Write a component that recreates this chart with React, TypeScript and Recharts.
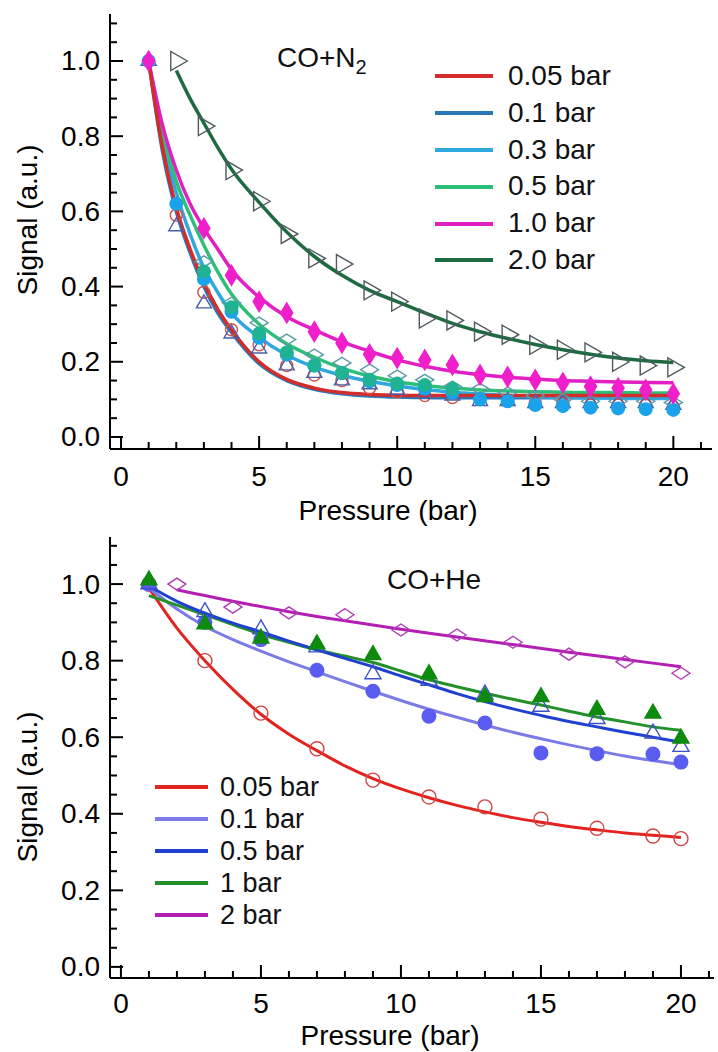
import { ComposedChart, Line, Scatter, XAxis, YAxis, Legend } from 'recharts';

const FONT = '"Liberation Sans", Arial, sans-serif';
const FS = 28;

// ---------- shared ticks ----------
const xTicks = [0, 1, 2, 3, 4, 5, 6, 7, 8, 9, 10, 11, 12, 13, 14, 15, 16, 17, 18, 19, 20, 21];
const yTicks = [0, 0.05, 0.1, 0.15, 0.2, 0.25, 0.3, 0.35, 0.4, 0.45, 0.5, 0.55, 0.6, 0.65, 0.7, 0.75, 0.8, 0.85, 0.9, 0.95, 1.0, 1.05, 1.1];

// ---------- CO + N2 (top panel) ----------
const n2Labels = ['0.05 bar', '0.1 bar', '0.3 bar', '0.5 bar', '1.0 bar', '2.0 bar'];
const n2Colors = ['#D42B2B', '#2A78B8', '#2FA8E0', '#2DBE78', '#E01FC4', '#1E6B42'];

const n2FitX = [1, 1.5, 2, 2.5, 3, 3.5, 4, 5, 6, 7, 8, 9, 10, 11, 12, 13, 14, 15, 16, 17, 18, 19, 20];
const n2Fit005 = [1.0, 0.77, 0.61, 0.5, 0.41, 0.34, 0.285, 0.2, 0.153, 0.13, 0.118, 0.113, 0.111, 0.11, 0.11, 0.11, 0.11, 0.11, 0.11, 0.11, 0.11, 0.11, 0.11];
const n2Fit01 = [1.0, 0.76, 0.6, 0.49, 0.4, 0.33, 0.278, 0.195, 0.15, 0.127, 0.115, 0.109, 0.106, 0.105, 0.104, 0.104, 0.104, 0.104, 0.104, 0.104, 0.104, 0.104, 0.104];
const n2Fit03 = [1.0, 0.79, 0.65, 0.54, 0.45, 0.385, 0.33, 0.265, 0.218, 0.186, 0.164, 0.148, 0.136, 0.126, 0.119, 0.114, 0.11, 0.107, 0.105, 0.104, 0.103, 0.102, 0.102];
const n2Fit05 = [1.0, 0.81, 0.68, 0.59, 0.51, 0.44, 0.38, 0.3, 0.248, 0.212, 0.183, 0.162, 0.147, 0.137, 0.13, 0.125, 0.122, 0.12, 0.119, 0.118, 0.118, 0.117, 0.117];
const n2Fit10 = [1.0, 0.83, 0.71, 0.62, 0.555, 0.5, 0.445, 0.372, 0.32, 0.285, 0.253, 0.228, 0.205, 0.188, 0.175, 0.166, 0.159, 0.154, 0.15, 0.148, 0.146, 0.145, 0.144];
const n2Fit20X = [2, 2.5, 3, 3.5, 4, 5, 6, 7, 8, 9, 10, 11, 12, 13, 14, 15, 16, 17, 18, 19, 20];
const n2Fit20 = [0.975, 0.9, 0.835, 0.77, 0.712, 0.624, 0.545, 0.48, 0.43, 0.39, 0.36, 0.33, 0.302, 0.28, 0.262, 0.246, 0.232, 0.22, 0.21, 0.203, 0.198];

const n2X = [1, 2, 3, 4, 5, 6, 7, 8, 9, 10, 11, 12, 13, 14, 15, 16, 17, 18, 19, 20];
const n2Pts005 = [1.0, 0.59, 0.385, 0.285, 0.245, 0.19, 0.165, 0.15, 0.13, 0.12, 0.11, 0.105, 0.1, 0.095, 0.09, 0.09, 0.085, 0.085, 0.085, 0.08];
const n2Pts01 = [1.0, 0.56, 0.355, 0.275, 0.235, 0.19, 0.17, 0.15, 0.14, 0.125, 0.115, 0.11, 0.095, 0.095, 0.09, 0.09, 0.09, 0.09, 0.09, 0.085];
const n2Pts03 = [1.0, 0.62, 0.42, 0.333, 0.264, 0.219, 0.19, 0.17, 0.148, 0.138, 0.128, 0.118, 0.1, 0.095, 0.085, 0.082, 0.078, 0.076, 0.074, 0.072];
const n2Pts05X = [3, 4, 5, 6, 7, 8, 9, 10, 11, 12];
const n2Pts05 = [0.44, 0.345, 0.275, 0.225, 0.19, 0.17, 0.152, 0.142, 0.138, 0.128];
const n2Pts05bX = [3, 4, 5, 6, 7, 8, 9, 10, 11, 12, 13, 14, 15, 16, 17, 18, 19, 20];
const n2Pts05b = [0.467, 0.357, 0.304, 0.259, 0.219, 0.197, 0.179, 0.163, 0.152, 0.134, 0.128, 0.118, 0.11, 0.1, 0.095, 0.095, 0.095, 0.092];
const n2Pts10X = [1, 3, 4, 5, 6, 7, 8, 9, 10, 11, 12, 13, 14, 15, 16, 17, 18, 19, 20];
const n2Pts10 = [1.0, 0.555, 0.43, 0.36, 0.33, 0.28, 0.25, 0.22, 0.21, 0.205, 0.192, 0.165, 0.16, 0.152, 0.144, 0.134, 0.13, 0.125, 0.115];
const n2Pts20X = [2, 3, 4, 5, 6, 7, 8, 9, 10, 11, 12, 13, 14, 15, 16, 17, 18, 19, 20];
const n2Pts20 = [1.0, 0.827, 0.71, 0.627, 0.54, 0.475, 0.46, 0.39, 0.36, 0.315, 0.31, 0.28, 0.272, 0.245, 0.232, 0.225, 0.2, 0.19, 0.185];

// ---------- CO + He (bottom panel) ----------
const heLabels = ['0.05 bar', '0.1 bar', '0.5 bar', '1 bar', '2 bar'];
const heColors = ['#E3231F', '#7B7BE8', '#1F40D0', '#23902A', '#B31FB3'];

const heFitX = [1, 2, 3, 4, 5, 6, 7, 8, 9, 10, 11, 12, 13, 14, 15, 16, 17, 18, 19, 20];
const heFit005 = [0.99, 0.885, 0.8, 0.725, 0.66, 0.608, 0.565, 0.525, 0.492, 0.465, 0.442, 0.422, 0.405, 0.39, 0.378, 0.367, 0.358, 0.35, 0.344, 0.338];
const heFit01 = [0.99, 0.935, 0.89, 0.855, 0.825, 0.797, 0.771, 0.745, 0.72, 0.696, 0.673, 0.652, 0.632, 0.613, 0.596, 0.58, 0.565, 0.551, 0.539, 0.528];
const heFit05 = [0.995, 0.955, 0.924, 0.898, 0.875, 0.851, 0.828, 0.806, 0.784, 0.76, 0.737, 0.714, 0.693, 0.674, 0.657, 0.641, 0.627, 0.613, 0.6, 0.587];
const heFit1 = [0.97, 0.945, 0.92, 0.894, 0.869, 0.848, 0.828, 0.812, 0.795, 0.773, 0.75, 0.732, 0.715, 0.699, 0.684, 0.668, 0.653, 0.64, 0.627, 0.618];
const he2X = [2, 4, 6, 8, 10, 12, 14, 16, 18, 20];
const heFit2 = [0.985, 0.955, 0.928, 0.904, 0.882, 0.862, 0.842, 0.822, 0.803, 0.784];

const heX = [1, 3, 5, 7, 9, 11, 13, 15, 17, 19, 20];
const hePts005 = [1.0, 0.8, 0.663, 0.57, 0.488, 0.444, 0.418, 0.386, 0.362, 0.342, 0.335];
const hePts01 = [1.0, 0.9, 0.855, 0.775, 0.72, 0.655, 0.637, 0.559, 0.557, 0.556, 0.535];
const hePts05 = [1.0, 0.927, 0.882, 0.835, 0.765, 0.748, 0.712, 0.68, 0.648, 0.61, 0.575];
const hePts1 = [1.01, 0.895, 0.858, 0.843, 0.815, 0.765, 0.705, 0.705, 0.672, 0.662, 0.597];
const hePts2 = [1.0, 0.94, 0.925, 0.92, 0.88, 0.867, 0.848, 0.817, 0.797, 0.767];

const pts = (xs: number[], ys: number[]) => xs.map((x, i) => ({ x, y: ys[i] }));

// ---------- markers ----------
const openCircle = (color: string, r: number) => (p: any) =>
  <circle cx={p.cx} cy={p.cy} r={r} fill="none" stroke={color} strokeWidth={1.4} />;
const dot = (color: string, r: number) => (p: any) =>
  <circle cx={p.cx} cy={p.cy} r={r} fill={color} />;
const triUp = (color: string, s: number, filled: boolean) => (p: any) => {
  const h = s * 0.87;
  const pts = `${p.cx},${p.cy - (h * 2) / 3} ${p.cx - s / 2},${p.cy + h / 3} ${p.cx + s / 2},${p.cy + h / 3}`;
  return <polygon points={pts} fill={filled ? color : 'none'} stroke={color} strokeWidth={1.4} />;
};
const triRight = (color: string, s: number) => (p: any) => {
  const h = s * 0.87;
  const pts = `${p.cx + (h * 2) / 3},${p.cy} ${p.cx - h / 3},${p.cy - s / 2} ${p.cx - h / 3},${p.cy + s / 2}`;
  return <polygon points={pts} fill="none" stroke={color} strokeWidth={1.4} />;
};
const diamond = (color: string, w: number, h: number, filled: boolean) => (p: any) => {
  const pts = `${p.cx},${p.cy - h / 2} ${p.cx + w / 2},${p.cy} ${p.cx},${p.cy + h / 2} ${p.cx - w / 2},${p.cy}`;
  return <polygon points={pts} fill={filled ? color : 'none'} stroke={color} strokeWidth={1.4} />;
};

// ---------- axes ticks (inward, mirrored on all four sides) ----------
const isMajorX = (v: number) => Math.abs(v / 5 - Math.round(v / 5)) < 1e-6;
const isMajorY = (v: number) => Math.abs(v * 5 - Math.round(v * 5)) < 1e-6;

const BottomTick = (labelDy: number) => (p: any) => {
  const v = p.payload.value;
  const major = isMajorX(v);
  return (
    <g>
      <line x1={p.x} x2={p.x} y1={p.y} y2={p.y - (major ? 13 : 7)} stroke="#000" strokeWidth={2} />
      {major && (
        <text x={p.x} y={p.y + labelDy} textAnchor="middle" dominantBaseline="central" fontSize={FS} fill="#000">
          {v}
        </text>
      )}
    </g>
  );
};
const TopTick = (p: any) => {
  const major = isMajorX(p.payload.value);
  return <line x1={p.x} x2={p.x} y1={p.y} y2={p.y + (major ? 13 : 7)} stroke="#000" strokeWidth={2} />;
};
const LeftTick = (p: any) => {
  const v = p.payload.value;
  const major = isMajorY(v);
  return (
    <g>
      <line x1={p.x} x2={p.x + (major ? 13 : 7)} y1={p.y} y2={p.y} stroke="#000" strokeWidth={2} />
      {major && (
        <text x={p.x - 10} y={p.y} textAnchor="end" dominantBaseline="central" fontSize={FS} fill="#000">
          {v.toFixed(1)}
        </text>
      )}
    </g>
  );
};
const RightTick = (p: any) => {
  const major = isMajorY(p.payload.value);
  return <line x1={p.x} x2={p.x - (major ? 13 : 7)} y1={p.y} y2={p.y} stroke="#000" strokeWidth={2} />;
};

const frame = { stroke: '#000', strokeWidth: 2 };

const legendContent = (labels: string[], colors: string[], rowH: number, lineW: number, gap: number, fs: number) => () => (
  <div style={{ fontFamily: FONT, fontSize: fs, color: '#111' }}>
    {labels.map((l, i) => (
      <div key={l} style={{ display: 'flex', alignItems: 'center', height: rowH, lineHeight: `${rowH}px`, whiteSpace: 'nowrap' }}>
        <div style={{ width: lineW, height: 4, background: colors[i], marginRight: gap }} />
        <span>{l}</span>
      </div>
    ))}
  </div>
);

const xTitle = (x: number, y: number) => () => (
  <text x={x} y={y} textAnchor="middle" fontSize={FS} fill="#000">Pressure (bar)</text>
);
const yTitle = (x: number, y: number) => () => (
  <text x={x} y={y} transform={`rotate(-90 ${x} ${y})`} textAnchor="middle" dominantBaseline="central" fontSize={FS} fill="#000">
    Signal (a.u.)
  </text>
);

export default function App() {
  const n2XDomain = [-0.4, 21.4];
  const n2YDomain = [-0.032, 1.125];
  const heXDomain = [-0.39, 21.18];
  const heYDomain = [-0.029, 1.123];

  return (
    <div style={{ position: 'absolute', left: 0, top: 0, width: 718, height: 1052, background: '#fff', fontFamily: FONT }}>
      {/* CO + N2 */}
      <div style={{ position: 'absolute', left: 0, top: 0 }}>
        <ComposedChart width={718} height={540} margin={{ top: 14, right: 6, left: 0, bottom: 21 }}>
          <XAxis dataKey="x" type="number" domain={n2XDomain} allowDataOverflow ticks={xTicks} interval={0}
            tick={BottomTick(27)} tickLine={false} tickSize={0} tickMargin={0} axisLine={frame} height={70}
            label={xTitle(388, 520)} />
          <XAxis xAxisId="top" orientation="top" dataKey="x" type="number" domain={n2XDomain} allowDataOverflow
            ticks={xTicks} interval={0} tick={TopTick} tickLine={false} tickSize={0} tickMargin={0} axisLine={frame} height={0} />
          <YAxis type="number" domain={n2YDomain} allowDataOverflow ticks={yTicks} interval={0}
            tick={LeftTick} tickLine={false} tickSize={0} tickMargin={0} axisLine={frame} width={110}
            label={yTitle(27, 220)} />
          <YAxis yAxisId="right" orientation="right" type="number" domain={n2YDomain} allowDataOverflow ticks={yTicks}
            interval={0} tick={RightTick} tickLine={false} tickSize={0} tickMargin={0} axisLine={frame} width={0} />

          <Line data={pts(n2FitX, n2Fit01)} dataKey="y" type="monotone" stroke={n2Colors[1]} strokeWidth={3.5} dot={false} isAnimationActive={false} />
          <Line data={pts(n2FitX, n2Fit03)} dataKey="y" type="monotone" stroke={n2Colors[2]} strokeWidth={3.5} dot={false} isAnimationActive={false} />
          <Line data={pts(n2FitX, n2Fit05)} dataKey="y" type="monotone" stroke={n2Colors[3]} strokeWidth={3.5} dot={false} isAnimationActive={false} />
          <Line data={pts(n2FitX, n2Fit10)} dataKey="y" type="monotone" stroke={n2Colors[4]} strokeWidth={3.5} dot={false} isAnimationActive={false} />
          <Line data={pts(n2Fit20X, n2Fit20)} dataKey="y" type="monotone" stroke={n2Colors[5]} strokeWidth={3.5} dot={false} isAnimationActive={false} />
          <Line data={pts(n2FitX, n2Fit005)} dataKey="y" type="monotone" stroke={n2Colors[0]} strokeWidth={3.5} dot={false} isAnimationActive={false} />

          <Scatter data={pts(n2X, n2Pts005)} dataKey="y" shape={openCircle('#D0504A', 6)} isAnimationActive={false} />
          <Scatter data={pts(n2X, n2Pts01)} dataKey="y" shape={triUp('#4A5FA8', 15, false)} isAnimationActive={false} />
          <Scatter data={pts(n2Pts05bX, n2Pts05b)} dataKey="y" shape={diamond('#5B9BA5', 18, 11, false)} isAnimationActive={false} />
          <Scatter data={pts(n2X, n2Pts03)} dataKey="y" shape={dot('#1AA3EA', 7)} isAnimationActive={false} />
          <Scatter data={pts(n2Pts05X, n2Pts05)} dataKey="y" shape={dot('#1FB393', 7)} isAnimationActive={false} />
          <Scatter data={pts(n2Pts10X, n2Pts10)} dataKey="y" shape={diamond('#F01ECB', 12, 20, true)} isAnimationActive={false} />
          <Scatter data={pts(n2Pts20X, n2Pts20)} dataKey="y" shape={triRight('#4F5A5F', 19)} isAnimationActive={false} />

          <Legend layout="vertical" align="center" verticalAlign="middle"
            content={legendContent(n2Labels, n2Colors, 36.8, 58, 15, FS)}
            wrapperStyle={{ top: 58, left: 435, width: 'auto', height: 'auto' }} />
        </ComposedChart>
        <div style={{ position: 'absolute', left: 277, top: 44, fontSize: FS, lineHeight: '28px', color: '#111', whiteSpace: 'nowrap' }}>
          CO+N<sub style={{ fontSize: 20 }}>2</sub>
        </div>
      </div>

      {/* CO + He */}
      <div style={{ position: 'absolute', left: 0, top: 522 }}>
        <ComposedChart width={718} height={530} margin={{ top: 15, right: 4, left: 0, bottom: 5 }}>
          <XAxis dataKey="x" type="number" domain={heXDomain} allowDataOverflow ticks={xTicks} interval={0}
            tick={BottomTick(25)} tickLine={false} tickSize={0} tickMargin={0} axisLine={frame} height={69}
            label={xTitle(390, 523)} />
          <XAxis xAxisId="top" orientation="top" dataKey="x" type="number" domain={heXDomain} allowDataOverflow
            ticks={xTicks} interval={0} tick={TopTick} tickLine={false} tickSize={0} tickMargin={0} axisLine={frame} height={0} />
          <YAxis type="number" domain={heYDomain} allowDataOverflow ticks={yTicks} interval={0}
            tick={LeftTick} tickLine={false} tickSize={0} tickMargin={0} axisLine={frame} width={110}
            label={yTitle(27, 265)} />
          <YAxis yAxisId="right" orientation="right" type="number" domain={heYDomain} allowDataOverflow ticks={yTicks}
            interval={0} tick={RightTick} tickLine={false} tickSize={0} tickMargin={0} axisLine={frame} width={0} />

          <Line data={pts(heFitX, heFit005)} dataKey="y" type="monotone" stroke={heColors[0]} strokeWidth={3} dot={false} isAnimationActive={false} />
          <Line data={pts(heFitX, heFit01)} dataKey="y" type="monotone" stroke={heColors[1]} strokeWidth={3} dot={false} isAnimationActive={false} />
          <Line data={pts(heFitX, heFit1)} dataKey="y" type="monotone" stroke={heColors[3]} strokeWidth={3} dot={false} isAnimationActive={false} />
          <Line data={pts(heFitX, heFit05)} dataKey="y" type="monotone" stroke={heColors[2]} strokeWidth={3} dot={false} isAnimationActive={false} />
          <Line data={pts(he2X, heFit2)} dataKey="y" type="monotone" stroke={heColors[4]} strokeWidth={3} dot={false} isAnimationActive={false} />

          <Scatter data={pts(heX, hePts005)} dataKey="y" shape={openCircle('#D04545', 7)} isAnimationActive={false} />
          <Scatter data={pts(heX, hePts01)} dataKey="y" shape={dot('#5A5CF0', 7.5)} isAnimationActive={false} />
          <Scatter data={pts(heX, hePts05)} dataKey="y" shape={triUp('#3A50C8', 16, false)} isAnimationActive={false} />
          <Scatter data={pts(heX, hePts1)} dataKey="y" shape={triUp('#0E8A0E', 16, true)} isAnimationActive={false} />
          <Scatter data={pts(he2X, hePts2)} dataKey="y" shape={diamond('#B23AB5', 18, 12, false)} isAnimationActive={false} />

          <Legend layout="vertical" align="center" verticalAlign="middle"
            content={legendContent(heLabels, heColors, 32, 53, 12, 27)}
            wrapperStyle={{ top: 249, left: 155, width: 'auto', height: 'auto' }} />
        </ComposedChart>
        <div style={{ position: 'absolute', left: 387, top: 44, fontSize: FS, lineHeight: '28px', color: '#111', whiteSpace: 'nowrap' }}>
          CO+He
        </div>
      </div>
    </div>
  );
}
